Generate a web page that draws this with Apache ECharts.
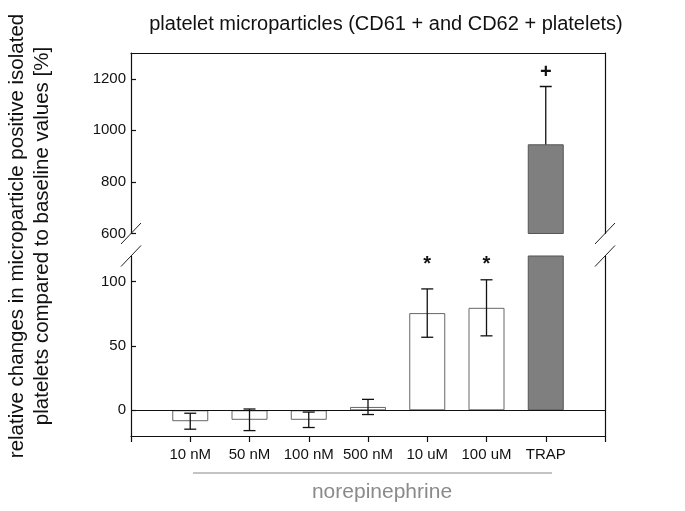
<!DOCTYPE html>
<html><head><meta charset="utf-8">
<script src="https://cdn.jsdelivr.net/npm/echarts@6/dist/echarts.min.js"></script>
<style>html,body{margin:0;padding:0;background:#fff}#c{width:685px;height:511px}</style>
</head><body><div id="c"></div>
<script>
// ---- data ----
const categories = ['10 nM', '50 nM', '100 nM', '500 nM', '10 uM', '100 uM', 'TRAP'];
const groups = ['norepinephrine', 'norepinephrine', 'norepinephrine', 'norepinephrine', 'norepinephrine', 'norepinephrine', 'TRAP'];
const means = [-8.5, -7.4, -7.4, 2.6, 75.6, 79.7, 946];
const errors = [6.2, 8.4, 6.0, 5.9, 18.8, 21.8, 224];
const sigMarks = ['', '', '', '', '*', '*', '+'];
const sigLevels = [null, null, null, null, 113.5, 113.5, 1225];
const lowerTicks = [0, 50, 100];
const upperTicks = [600, 800, 1000, 1200];
const titleText = 'platelet microparticles (CD61 + and CD62 + platelets)';
const yTitleLines = ['relative changes in microparticle positive isolated', 'platelets compared to baseline values [%]'];
const groupLabel = 'norepinephrine';

// ---- layout ----
const W = 685, L = 131, R = 605, UT = 53, UB = 233.5, LT = 256, LB = 436;
const FONT = '"Liberation Sans", Arial, Helvetica, sans-serif';
const INK = '#111';

const chart = echarts.init(document.getElementById('c'), null, {renderer: 'canvas'});

const barItems = means.map((v, i) => ({
  value: [i + 1, v],
  itemStyle: groups[i] === 'TRAP'
    ? {color: '#7f7f7f', borderColor: '#555', borderWidth: 1}
    : {color: '#ffffff', borderColor: '#666', borderWidth: 1}
}));
const errData = means.map((v, i) => [i + 1, v - errors[i], v + errors[i]]);

function errRender(params, api) {
  const x = api.value(0), lo = api.value(1), hi = api.value(2);
  const pLo = api.coord([x, lo]), pHi = api.coord([x, hi]);
  const w = 6, st = {stroke: INK, lineWidth: 1.3};
  return {type: 'group', children: [
    {type: 'line', shape: {x1: pLo[0], y1: pLo[1], x2: pHi[0], y2: pHi[1]}, style: st},
    {type: 'line', shape: {x1: pLo[0] - w, y1: pLo[1], x2: pLo[0] + w, y2: pLo[1]}, style: st},
    {type: 'line', shape: {x1: pHi[0] - w, y1: pHi[1], x2: pHi[0] + w, y2: pHi[1]}, style: st}
  ]};
}
function sigRender(params, api) {
  const p = api.coord([api.value(0), api.value(1)]);
  return {type: 'text', x: p[0], y: p[1], style: {
    text: sigMarks[api.value(0) - 1], font: 'bold 20px ' + FONT, fill: INK,
    textAlign: 'center', textVerticalAlign: 'middle'}};
}
const sigLower = [], sigUpper = [];
sigLevels.forEach((v, i) => {
  if (v == null) return;
  if (v >= 600) sigUpper.push([i + 1, v]); else sigLower.push([i + 1, v]);
});

const axLine = {show: true, onZero: false, lineStyle: {color: INK, width: 1.2}};
const sideAxis = (gi, min, max) => ({
  type: 'value', gridIndex: gi, position: 'right', min, max,
  axisLine: axLine, axisTick: {show: false}, axisLabel: {show: false}, splitLine: {show: false}
});
const leftAxis = (gi, min, max, ticks) => ({
  type: 'value', gridIndex: gi, position: 'left', min, max,
  axisLine: axLine,
  axisTick: {show: true, inside: true, length: 5, customValues: ticks, lineStyle: {color: INK, width: 1.2}},
  axisLabel: {customValues: ticks, fontSize: 15, color: INK, fontFamily: FONT, margin: 5,
    formatter: v => String(v)},
  splitLine: {show: false}
});

const option = {
  animation: false,
  backgroundColor: '#fff',
  grid: [
    {left: L, right: W - R, top: LT, height: LB - LT},
    {left: L, right: W - R, top: UT, height: UB - UT}
  ],
  xAxis: [
    {type: 'value', gridIndex: 0, min: 0, max: 8, interval: 1, position: 'bottom',
      axisLine: axLine,
      axisTick: {show: true, inside: false, length: 6, lineStyle: {color: INK, width: 1.2}},
      axisLabel: {fontSize: 15, color: INK, fontFamily: FONT, margin: 11,
        showMinLabel: true, showMaxLabel: true,
        formatter: v => (v >= 1 && v <= categories.length) ? categories[v - 1] : ''},
      splitLine: {show: false}},
    {type: 'value', gridIndex: 1, min: 0, max: 8, interval: 1, position: 'top',
      axisLine: axLine, axisTick: {show: false}, axisLabel: {show: false}, splitLine: {show: false}}
  ],
  yAxis: [
    leftAxis(0, -20, 120, lowerTicks),
    sideAxis(0, -20, 120),
    leftAxis(1, 600, 1300, upperTicks),
    sideAxis(1, 600, 1300)
  ],
  series: [
    {type: 'bar', xAxisIndex: 0, yAxisIndex: 0, barWidth: 36, data: barItems, clip: true, z: 2,
      markLine: {silent: true, symbol: 'none', label: {show: false},
        lineStyle: {color: INK, width: 1.2, type: 'solid'}, data: [{yAxis: 0}]}},
    {type: 'custom', xAxisIndex: 0, yAxisIndex: 0, renderItem: errRender, data: errData, clip: true, z: 3},
    {type: 'custom', xAxisIndex: 0, yAxisIndex: 0, renderItem: sigRender, data: sigLower, clip: false, z: 4},
    {type: 'bar', xAxisIndex: 1, yAxisIndex: 2, barWidth: 36, data: barItems, clip: true, z: 2},
    {type: 'custom', xAxisIndex: 1, yAxisIndex: 2, renderItem: errRender, data: errData, clip: true, z: 1},
    {type: 'custom', xAxisIndex: 1, yAxisIndex: 2, renderItem: sigRender, data: sigUpper, clip: false, z: 4}
  ],
  graphic: []
};

// axis break slashes
const slash = (cx, cy) => ({type: 'line', silent: true, z: 10,
  shape: {x1: cx - 10, y1: cy + 10.5, x2: cx + 10, y2: cy - 10.5},
  style: {stroke: '#222', lineWidth: 1}});
option.graphic.push(slash(L, UB), slash(L, LT), slash(R, UB), slash(R, LT));
// title
option.graphic.push({type: 'text', x: 386, y: 24, silent: true,
  style: {text: titleText, font: '20px ' + FONT, fill: INK, textAlign: 'center', textVerticalAlign: 'middle'}});
// y title
option.graphic.push({type: 'text', x: 30, y: 236, rotation: Math.PI / 2, silent: true,
  style: {text: yTitleLines.join('\n'), font: '20.5px ' + FONT, lineHeight: 25, fill: INK,
    textAlign: 'center', textVerticalAlign: 'middle'}});
// group label
option.graphic.push({type: 'line', silent: true, shape: {x1: 193, y1: 473, x2: 552, y2: 473},
  style: {stroke: '#888', lineWidth: 1}});
option.graphic.push({type: 'text', x: 382, y: 492, silent: true,
  style: {text: groupLabel, font: '21px ' + FONT, fill: '#8a8a8a', textAlign: 'center', textVerticalAlign: 'middle'}});

chart.setOption(option);
</script></body></html>
